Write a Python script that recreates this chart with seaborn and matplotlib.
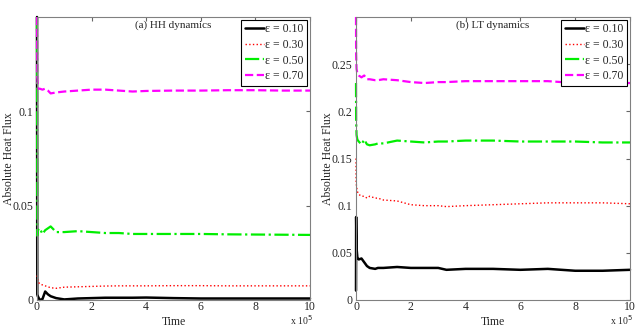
import matplotlib
matplotlib.use("Agg")
import matplotlib.pyplot as plt
import seaborn as sns

# time in units of 1e5
t_hh = [0, 0.01, 0.03, 0.1, 0.2, 0.3, 0.4, 0.5, 0.7, 1, 1.5, 2, 2.5, 3, 3.5, 4, 5, 6, 7, 8, 9, 10]
hh_010 = [0.15, 0.003, 0.002, 0.0, 0.0005, 0.0045, 0.003, 0.002, 0.001, 0.0003, 0.0008, 0.001,
          0.0012, 0.0012, 0.0012, 0.0013, 0.001, 0.0008, 0.0008, 0.0008, 0.0008, 0.0008]
hh_030 = [0.013, 0.012, 0.010, 0.0085, 0.008, 0.0075, 0.007, 0.0065, 0.0062, 0.0068, 0.007, 0.0072,
          0.0074, 0.0075, 0.0075, 0.0075, 0.0076, 0.0076, 0.0075, 0.0075, 0.0075, 0.0075]
hh_050 = [0.15, 0.034, 0.037, 0.038, 0.035, 0.037, 0.038, 0.039, 0.036, 0.036, 0.0365, 0.036,
          0.0355, 0.0355, 0.035, 0.035, 0.035, 0.035, 0.0348, 0.0347, 0.0346, 0.0345]
hh_070 = [0.15, 0.118, 0.112, 0.112, 0.1115, 0.112, 0.111, 0.1095, 0.110, 0.1105, 0.111, 0.1115,
          0.1115, 0.111, 0.1105, 0.1108, 0.111, 0.111, 0.1112, 0.1112, 0.111, 0.111]

t_lt = [0, 0.005, 0.02, 0.05, 0.1, 0.2, 0.3, 0.4, 0.5, 0.7, 0.8, 1, 1.5, 2, 2.5, 3, 3.3, 4, 5, 6, 7, 8, 9, 10]
lt_010 = [0.01, 0.088, 0.055, 0.045, 0.043, 0.044, 0.04, 0.036, 0.034, 0.033, 0.034, 0.034, 0.035,
          0.034, 0.034, 0.034, 0.032, 0.033, 0.033, 0.032, 0.033, 0.031, 0.031, 0.032]
lt_030 = [0.15, 0.125, 0.12, 0.115, 0.112, 0.11, 0.11, 0.108, 0.11, 0.108, 0.108, 0.106, 0.105,
          0.101, 0.1, 0.1, 0.099, 0.1, 0.101, 0.102, 0.103, 0.103, 0.103, 0.102]
lt_050 = [0.23, 0.19, 0.175, 0.17, 0.168, 0.165, 0.17, 0.165, 0.164, 0.165, 0.166, 0.166, 0.169,
          0.168, 0.167, 0.168, 0.168, 0.169, 0.169, 0.168, 0.168, 0.168, 0.167, 0.167]
lt_070 = [0.30, 0.26, 0.245, 0.24, 0.238, 0.236, 0.238, 0.234, 0.234, 0.233, 0.233, 0.234, 0.233,
          0.231, 0.230, 0.231, 0.231, 0.232, 0.232, 0.232, 0.232, 0.230, 0.230, 0.230]

labels = ["ε = 0.10", "ε = 0.30", "ε = 0.50", "ε = 0.70"]
styles = [("black", "-", 1.8), ("#ff0000", ":", 1.0), ("#00ee00", "-.", 1.6), ("#ff00ff", "--", 1.6)]

sns.set_style("white")
plt.rcParams["font.family"] = ["Liberation Serif", "DejaVu Serif"]
plt.rcParams["font.size"] = 8.5

fig = plt.figure(figsize=(6.38, 3.28), dpi=100)
ax1 = fig.add_axes([37 / 638, 28 / 328, 273 / 638, 283 / 328])
ax2 = fig.add_axes([356 / 638, 28 / 328, 274 / 638, 283 / 328])

panels = [
    (ax1, t_hh, [hh_010, hh_030, hh_050, hh_070], "(a) HH dynamics", 0.15, [0, 0.05, 0.1], ["0", "0.05", "0.1"]),
    (ax2, t_lt, [lt_010, lt_030, lt_050, lt_070], "(b) LT dynamics", 0.30,
     [0, 0.05, 0.1, 0.15, 0.2, 0.25], ["0", "0.05", "0.1", "0.15", "0.2", "0.25"]),
]

for ax, t, series, title, ytop, yt, ytl in panels:
    for y, lab, (c, ls, lw) in zip(series, labels, styles):
        sns.lineplot(x=t, y=y, ax=ax, color=c, linestyle=ls, linewidth=lw, label=lab, clip_on=False)
    ax.set_xlim(0, 10)
    ax.set_ylim(0, ytop)
    ax.set_xticks([0, 2, 4, 6, 8, 10])
    ax.set_yticks(yt)
    ax.set_yticklabels(ytl)
    ax.tick_params(direction="in", length=3, top=True, right=True, labelsize=8.5, color="0.4")
    ax.tick_params(axis="x", pad=1)
    ax.tick_params(axis="y", pad=2.5)
    for s in ax.spines.values():
        s.set_color("0.5")
        s.set_linewidth(0.8)
    ax.set_xlabel("Time", fontsize=8.5)
    ax.xaxis.set_label_coords(0.5, -0.055)
    ax.set_ylabel("Absolute Heat Flux", fontsize=8.5)
    ax.yaxis.set_label_coords(-0.082, 0.5)
    ax.text(0.5, 0.972, title, transform=ax.transAxes, ha="center", va="center", fontsize=8)
    pos = ax.get_position()
    fig.text(pos.x1 - 20 / 638, 1 / 328, "x 10$^5$", ha="left", va="bottom", fontsize=7)
    leg = ax.legend(loc="upper right", fontsize=8.5, frameon=True, fancybox=False, framealpha=1,
                    edgecolor="black", handlelength=1.6, handletextpad=0.1, borderaxespad=0.25,
                    borderpad=0.3, labelspacing=0.3)
    leg.get_frame().set_linewidth(0.8)

fig.savefig("out.png", dpi=100)
